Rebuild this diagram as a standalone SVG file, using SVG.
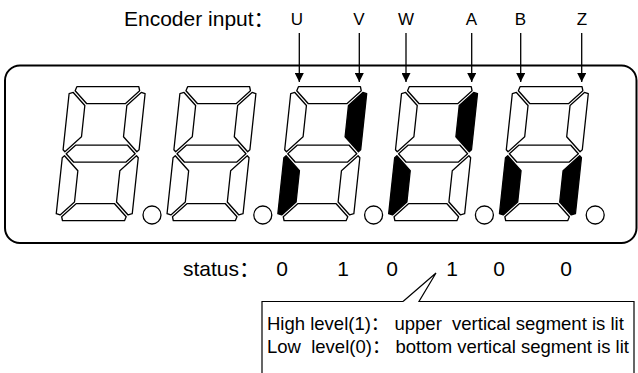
<svg xmlns="http://www.w3.org/2000/svg" xmlns:xlink="http://www.w3.org/1999/xlink" width="638" height="373" viewBox="0 0 638 373">
<style>
.off{fill:#fff;stroke:#000;stroke-width:1.3;stroke-linejoin:round}
.on{fill:#000;stroke:#000;stroke-width:1.3;stroke-linejoin:round}
.dot{fill:#fff;stroke:#000;stroke-width:1.3}
.t{font-family:"Liberation Sans","Noto Sans CJK SC",Arial,sans-serif;fill:#000;white-space:pre}
.lbl{font-family:"Liberation Sans Narrow","Liberation Sans",sans-serif;font-size:17px;text-anchor:middle;fill:#000}
.val{font-family:"Liberation Sans",Arial,sans-serif;font-size:21px;text-anchor:middle;fill:#000}
.conn{stroke:#000;stroke-width:1.3;fill:none}
</style>
<defs>
<polygon id="sA" points="7,0 69,0 70.25,4 57.25,17 18.75,17 5.75,4"/>
<polygon id="sB" points="76,7 72,5.75 59,18.75 59,50 74,65 76,63"/>
<polygon id="sC" points="76,127 72,128.25 59,115.25 59,84 74,69 76,71"/>
<polygon id="sD" points="7,134 69,134 70.25,130 57.25,117 18.75,117 5.75,130"/>
<polygon id="sE" points="0,127 4,128.25 17,115.25 17,84 2,69 0,71"/>
<polygon id="sF" points="0,7 4,5.75 17,18.75 17,50 2,65 0,63"/>
<polygon id="sG" points="3.5,67 12,58.5 64,58.5 72.5,67 64,75.5 12,75.5"/>
<marker id="arr" viewBox="0 0 10 10" refX="10" refY="5" markerWidth="9" markerHeight="9" markerUnits="userSpaceOnUse" orient="auto"><path d="M0,0 L10,5 L0,10 z" fill="#000"/></marker>
</defs>

<g id="panel">
<rect x="5" y="65.5" width="631.5" height="177.5" rx="15" ry="15" fill="#fff" stroke="#000" stroke-width="2"/>
</g>

<g id="digit1" transform="matrix(1,0,-0.107,1,69.84,86.7)">
<use href="#sA" class="off"/><use href="#sB" class="off"/><use href="#sC" class="off"/><use href="#sD" class="off"/><use href="#sE" class="off"/><use href="#sF" class="off"/><use href="#sG" class="off"/>
</g>
<circle id="dot1" class="dot" cx="152" cy="215" r="9"/>

<g id="digit2" transform="matrix(1,0,-0.107,1,180.64,86.7)">
<use href="#sA" class="off"/><use href="#sB" class="off"/><use href="#sC" class="off"/><use href="#sD" class="off"/><use href="#sE" class="off"/><use href="#sF" class="off"/><use href="#sG" class="off"/>
</g>
<circle id="dot2" class="dot" cx="262.8" cy="215" r="9"/>

<g id="digit3" transform="matrix(1,0,-0.107,1,291.44,86.7)">
<use href="#sA" class="off"/><use href="#sB" class="on"/><use href="#sC" class="off"/><use href="#sD" class="off"/><use href="#sE" class="on"/><use href="#sF" class="off"/><use href="#sG" class="off"/>
</g>
<circle id="dot3" class="dot" cx="373.6" cy="215" r="9"/>

<g id="digit4" transform="matrix(1,0,-0.107,1,402.24,86.7)">
<use href="#sA" class="off"/><use href="#sB" class="on"/><use href="#sC" class="off"/><use href="#sD" class="off"/><use href="#sE" class="on"/><use href="#sF" class="off"/><use href="#sG" class="off"/>
</g>
<circle id="dot4" class="dot" cx="484.4" cy="215" r="9"/>

<g id="digit5" transform="matrix(1,0,-0.107,1,513.04,86.7)">
<use href="#sA" class="off"/><use href="#sB" class="off"/><use href="#sC" class="on"/><use href="#sD" class="off"/><use href="#sE" class="on"/><use href="#sF" class="off"/><use href="#sG" class="off"/>
</g>
<circle id="dot5" class="dot" cx="595.2" cy="215" r="9"/>

<g id="title">
<text class="t" x="124" y="26" font-size="21">Encoder input：</text>
</g>

<g id="labels">
<text class="lbl" x="297" y="25">U</text>
<text class="lbl" x="359" y="25">V</text>
<text class="lbl" x="406" y="25">W</text>
<text class="lbl" x="471.5" y="25">A</text>
<text class="lbl" x="520.5" y="25">B</text>
<text class="lbl" x="582" y="25">Z</text>
</g>

<g id="connectors">
<line class="conn" x1="299.3" y1="33" x2="299.3" y2="82" marker-end="url(#arr)"/>
<line class="conn" x1="359.3" y1="33" x2="359.3" y2="82" marker-end="url(#arr)"/>
<line class="conn" x1="406" y1="33" x2="406" y2="82" marker-end="url(#arr)"/>
<line class="conn" x1="471.7" y1="33" x2="471.7" y2="82" marker-end="url(#arr)"/>
<line class="conn" x1="520.7" y1="33" x2="520.7" y2="82" marker-end="url(#arr)"/>
<line class="conn" x1="581.7" y1="33" x2="581.7" y2="82" marker-end="url(#arr)"/>
</g>

<g id="status">
<text class="t" x="183" y="276" font-size="21">status：</text>
<text class="val" x="282" y="276">0</text>
<text class="val" x="343" y="276">1</text>
<text class="val" x="392" y="276">0</text>
<text class="val" x="452" y="276">1</text>
<text class="val" x="499" y="276">0</text>
<text class="val" x="566" y="276">0</text>
</g>

<g id="callout">
<path d="M403,301.5 H262 V380 H634 V301.5 H419 L436,273 Z" fill="#fff" stroke="none"/>
<path d="M403,301.5 H262 V380 M634,380 V301.5 H419 L436,273 L403,301.5" fill="none" stroke="#000" stroke-width="1.2"/>
<text class="t" x="267" y="330" font-size="18.5">High level(1)： upper  vertical segment is lit</text>
<text class="t" x="267" y="353" font-size="18.5">Low  level(0)： bottom vertical segment is lit</text>
</g>
</svg>
